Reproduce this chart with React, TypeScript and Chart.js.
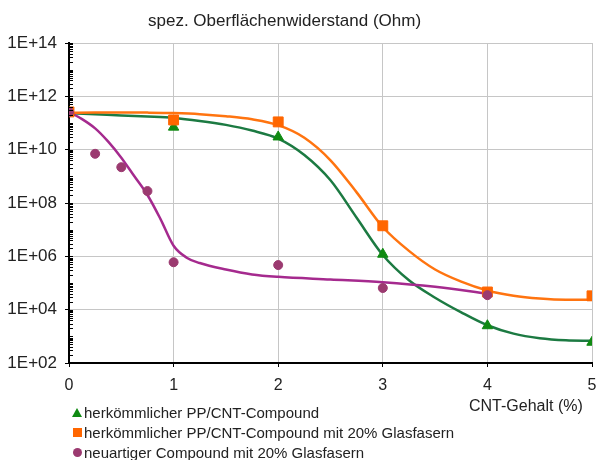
import React, { useEffect, useRef } from 'react';
import { Chart, registerables } from 'chart.js';

Chart.register(...registerables);

// ---- data ----
const titleText = 'spez. Oberflächenwiderstand (Ohm)';
const xAxisTitle = 'CNT-Gehalt (%)';
const seriesNames = [
  'herkömmlicher PP/CNT-Compound',
  'herkömmlicher PP/CNT-Compound mit 20% Glasfasern',
  'neuartiger Compound mit 20% Glasfasern',
];

const xValues = [0, 1, 2, 3, 4, 5];
const greenValues = [2.5e11, 7e10, 3e10, 1.2e6, 2.5e3, 6e2];
const orangeValues = [2.6e11, 1.3e11, 1.1e11, 1.4e7, 4.6e4, 3.3e4];
const purpleX = [0, 0.25, 0.5, 0.75, 1, 2, 3, 4];
const purpleValues = [2.6e11, 7e9, 2.2e9, 2.8e8, 6e5, 4.7e5, 6.5e4, 3.5e4];

// trend curves
const greenCurveX = [0, 0.25, 0.5, 0.75, 1, 1.25, 1.5, 1.75, 2, 2.25, 2.5, 2.75, 3, 3.25, 3.5, 3.75, 4, 4.25, 4.5, 4.75, 5];
const greenCurveY = [2.37e11, 2.14e11, 1.9e11, 1.74e11, 1.55e11, 1.2e11, 8.5e10, 5.2e10, 2.6e10, 6.3e9, 7.1e8, 2.8e7, 1.12e6, 1.26e5, 2.8e4, 7.9e3, 2.6e3, 1.26e3, 8.5e2, 7.1e2, 6.8e2];
const orangeCurveX = [0, 0.25, 0.5, 0.75, 1, 1.25, 1.5, 1.75, 2, 2.25, 2.5, 2.75, 3, 3.25, 3.5, 3.75, 4, 4.25, 4.5, 4.75, 5];
const orangeCurveY = [2.4e11, 2.45e11, 2.5e11, 2.45e11, 2.35e11, 2.15e11, 1.8e11, 1.38e11, 8.3e10, 2.8e10, 4e9, 2.5e8, 1.26e7, 1.6e6, 3.2e5, 1.12e5, 5.2e4, 3.3e4, 2.6e4, 2.35e4, 2.35e4];
const purpleCurveX = [0, 0.125, 0.25, 0.375, 0.5, 0.625, 0.75, 0.875, 1, 1.125, 1.25, 1.5, 1.75, 2, 2.5, 3, 3.5, 4];
const purpleCurveY = [2.6e11, 1.4e11, 6.3e10, 2e10, 5e9, 1e9, 2e8, 2.5e7, 2.5e6, 8.9e5, 5.6e5, 3.2e5, 2.1e5, 1.7e5, 1.35e5, 1.07e5, 7.2e4, 4e4];

const xTickValues = [0, 1, 2, 3, 4, 5];
const yTickValues = [1e2, 1e4, 1e6, 1e8, 1e10, 1e12, 1e14];
const yTickLabels = ['1E+02', '1E+04', '1E+06', '1E+08', '1E+10', '1E+12', '1E+14'];

const FONT = "'Liberation Sans', Arial, sans-serif";
const GREEN = '#0f8a12';
const GREEN_LINE = '#1c7a42';
const ORANGE = '#ff6600';
const ORANGE_LINE = '#ff7410';
const PURPLE = '#9b3a70';
const PURPLE_LINE = '#a52a8e';

const zip = (xs: number[], ys: number[]) => xs.map((x, i) => ({ x, y: ys[i] }));

const minorTicksPlugin = {
  id: 'minorTicks',
  afterDraw(chart: any) {
    const y = chart.scales.y;
    const ctx = chart.ctx;
    const left = chart.chartArea.left;
    ctx.save();
    ctx.strokeStyle = '#000';
    ctx.lineWidth = 1;
    for (let n = 2; n < 14; n++) {
      for (let k = 1; k <= 9; k++) {
        const v = k * Math.pow(10, n);
        const py = Math.round(y.getPixelForValue(v)) + 0.5;
        ctx.beginPath();
        ctx.moveTo(left, py);
        ctx.lineTo(left + 4, py);
        ctx.stroke();
      }
    }
    const topPy = Math.round(y.getPixelForValue(1e14)) + 0.5;
    ctx.beginPath();
    ctx.moveTo(left, topPy);
    ctx.lineTo(left + 4, topPy);
    ctx.stroke();
    ctx.restore();
  },
};

export default function App() {
  const canvasRef = useRef<HTMLCanvasElement | null>(null);

  useEffect(() => {
    if (!canvasRef.current) return;
    const chart = new Chart(canvasRef.current, {
      type: 'line',
      data: {
        datasets: [
          {
            label: seriesNames[2],
            data: zip(purpleX, purpleValues),
            showLine: false,
            pointStyle: 'circle',
            pointRadius: 4.5,
            pointBackgroundColor: PURPLE,
            pointBorderColor: PURPLE,
            borderColor: PURPLE,
            order: 0,
          },
          {
            label: seriesNames[1],
            data: zip(xValues, orangeValues),
            showLine: false,
            pointStyle: 'rect',
            pointRadius: 7,
            pointBackgroundColor: ORANGE,
            pointBorderColor: ORANGE,
            borderColor: ORANGE,
            order: 1,
          },
          {
            label: seriesNames[0],
            data: zip(xValues, greenValues),
            showLine: false,
            pointStyle: 'triangle',
            pointRadius: 6,
            pointBackgroundColor: GREEN,
            pointBorderColor: GREEN,
            borderColor: GREEN,
            order: 2,
          },
          {
            label: 'trend purple',
            data: zip(purpleCurveX, purpleCurveY),
            borderColor: PURPLE_LINE,
            borderWidth: 2.5,
            pointRadius: 0,
            cubicInterpolationMode: 'monotone',
            order: 3,
          },
          {
            label: 'trend orange',
            data: zip(orangeCurveX, orangeCurveY),
            borderColor: ORANGE_LINE,
            borderWidth: 2.5,
            pointRadius: 0,
            cubicInterpolationMode: 'monotone',
            order: 4,
          },
          {
            label: 'trend green',
            data: zip(greenCurveX, greenCurveY),
            borderColor: GREEN_LINE,
            borderWidth: 2.5,
            pointRadius: 0,
            cubicInterpolationMode: 'monotone',
            order: 5,
          },
        ],
      },
      options: {
        responsive: false,
        animation: false,
        layout: { padding: { top: 43, right: 7, left: 0, bottom: 0 } },
        plugins: {
          legend: { display: false },
          title: { display: false },
          tooltip: { enabled: false },
        },
        scales: {
          x: {
            type: 'linear',
            min: 0,
            max: 5,
            afterBuildTicks: (s: any) => {
              s.ticks = xTickValues.map((v) => ({ value: v }));
            },
            afterFit: (s: any) => {
              s.height = 97;
              s.paddingLeft = 0;
              s.paddingRight = 0;
            },
            ticks: {
              color: '#222',
              font: { family: FONT, size: 16 },
              padding: 9,
              callback: (v: any) => String(v),
            },
            grid: { color: '#c6c6c6', lineWidth: 1, tickColor: '#000', tickLength: 4 },
            border: { color: '#000', width: 2 },
          },
          y: {
            type: 'logarithmic',
            min: 1e2,
            max: 1e14,
            afterBuildTicks: (s: any) => {
              s.ticks = yTickValues.map((v) => ({ value: v }));
            },
            afterFit: (s: any) => {
              s.width = 69;
            },
            ticks: {
              color: '#222',
              font: { family: FONT, size: 17 },
              padding: 8,
              callback: (_v: any, i: number) => yTickLabels[i],
            },
            grid: { color: '#c6c6c6', lineWidth: 1, tickColor: '#000', tickLength: 4 },
            border: { color: '#000', width: 2 },
          },
        },
      } as any,
      plugins: [minorTicksPlugin],
    });
    return () => chart.destroy();
  }, []);

  const markerBase: React.CSSProperties = { display: 'inline-block', marginRight: 2, flex: '0 0 auto' };
  const markers = [
    <span key="t" style={{ ...markerBase, width: 0, height: 0, borderLeft: '5px solid transparent', borderRight: '5px solid transparent', borderBottom: `9px solid ${GREEN}`, marginLeft: 0 }} />,
    <span key="s" style={{ ...markerBase, width: 9, height: 9, background: ORANGE, marginLeft: 1 }} />,
    <span key="c" style={{ ...markerBase, width: 9, height: 9, borderRadius: '50%', background: PURPLE, marginLeft: 1 }} />,
  ];

  return (
    <div style={{ position: 'absolute', left: 0, top: 0, width: 600, height: 460, background: '#fff', fontFamily: FONT }}>
      <canvas ref={canvasRef} width={600} height={460} style={{ display: 'block', width: 600, height: 460 }} />
      <div style={{ position: 'absolute', left: 148, top: 11, fontSize: 17, lineHeight: '20px', color: '#222', whiteSpace: 'nowrap' }}>
        {titleText}
      </div>
      <div style={{ position: 'absolute', left: 469, top: 396, fontSize: 16, lineHeight: '20px', color: '#222', whiteSpace: 'nowrap' }}>
        {xAxisTitle}
      </div>
      <div style={{ position: 'absolute', left: 72, top: 402, fontSize: 15, color: '#222' }}>
        {seriesNames.map((name, i) => (
          <div key={name} style={{ display: 'flex', alignItems: 'center', height: 20, whiteSpace: 'nowrap' }}>
            {markers[i]}
            <span>{name}</span>
          </div>
        ))}
      </div>
    </div>
  );
}
